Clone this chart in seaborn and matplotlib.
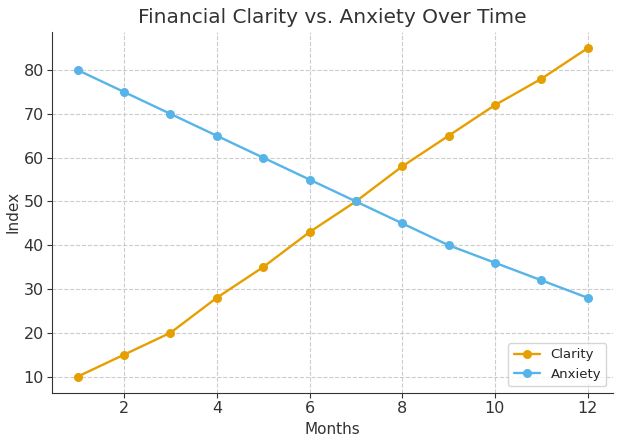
import matplotlib
matplotlib.use("Agg")
import matplotlib.pyplot as plt
import seaborn as sns
import pandas as pd

months = [1, 2, 3, 4, 5, 6, 7, 8, 9, 10, 11, 12]
clarity = [10, 15, 20, 28, 35, 43, 50, 58, 65, 72, 78, 85]
anxiety = [80, 75, 70, 65, 60, 55, 50, 45, 40, 36, 32, 28]

df = pd.DataFrame({"Months": months * 2,
                   "Index": clarity + anxiety,
                   "Series": ["Clarity"] * 12 + ["Anxiety"] * 12})

sns.set_style("ticks")
plt.rcParams['font.family'] = ['DejaVu Sans']

fig, ax = plt.subplots(figsize=(6.23, 4.42), dpi=100)
sns.lineplot(data=df, x="Months", y="Index", hue="Series",
             palette={"Clarity": "#E69F00", "Anxiety": "#56B4E9"},
             marker="o", markersize=6.5, markeredgewidth=0, linewidth=1.7, ax=ax)

ax.set_title("Financial Clarity vs. Anxiety Over Time", fontsize=14.5, color="#333333", pad=6)
ax.set_xlabel("Months", fontsize=11, color="#333333", labelpad=4)
ax.set_ylabel("Index", fontsize=11, color="#333333", labelpad=2)
ax.set_xticks([2, 4, 6, 8, 10, 12])
ax.set_yticks([10, 20, 30, 40, 50, 60, 70, 80])
ax.tick_params(labelsize=11.5, colors="#333333", length=3.5, pad=2.5)
ax.grid(True, linestyle="--", color="#cccccc", linewidth=0.8)
for s in ["top", "right"]:
    ax.spines[s].set_visible(False)
for s in ["left", "bottom"]:
    ax.spines[s].set_color("#333333")
ax.legend(title=None, loc="lower right", fontsize=9.5)

fig.subplots_adjust(left=0.084, right=0.984, top=0.928, bottom=0.111)
fig.savefig("out.png", dpi=100)
